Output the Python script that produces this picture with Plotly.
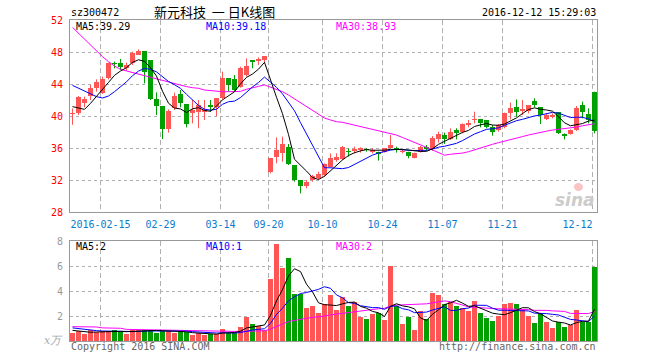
import numpy as np
import pandas as pd
import plotly.graph_objects as go

# ---------------- data ----------------
dates = [d.strftime("%Y-%m-%d") for d in (
    list(pd.bdate_range("2016-02-01", "2016-02-05")) +
    list(pd.bdate_range("2016-02-15", "2016-03-23")) +
    list(pd.bdate_range("2016-09-20", "2016-09-30")) +
    list(pd.bdate_range("2016-10-10", "2016-12-12")))]

open_ = [40.25, 40.42, 41.67, 42.50, 43.46, 42.92, 44.71, 46.55, 46.67, 45.96,
         46.67, 47.63, 48.13, 47.00, 42.13, 41.25, 38.38, 40.96, 42.75, 41.50,
         40.42, 40.54, 40.60, 41.38, 41.08, 42.21, 44.71, 44.58, 43.67, 45.13,
         46.92, 46.90, 47.00, 33.04, 34.92, 35.33, 36.08, 33.88, 32.00, 31.29,
         32.00, 32.21, 32.63, 33.67, 34.50, 34.58, 35.60, 35.70, 35.80, 35.80,
         35.54, 35.54, 35.54, 36.00, 36.04, 35.50, 35.54, 34.79, 35.54, 36.17,
         35.83, 37.13, 37.63, 37.08, 38.25, 37.96, 38.98, 39.50, 39.63, 39.50,
         38.67, 38.25, 38.58, 40.33, 41.08, 40.70, 40.67, 41.92, 41.08, 39.58,
         39.98, 40.46, 37.65, 37.75, 38.25, 41.38, 40.21, 43.04]
high = [40.95, 42.50, 42.42, 43.88, 44.58, 44.92, 46.67, 46.80, 47.13, 46.67,
        48.04, 48.33, 48.13, 47.00, 42.96, 41.25, 40.83, 42.92, 43.25, 41.50,
        42.00, 42.00, 42.00, 42.00, 42.21, 45.54, 44.71, 45.13, 46.17, 47.21,
        46.92, 47.33, 47.50, 34.71, 37.33, 37.42, 36.50, 33.88, 32.00, 32.00,
        32.63, 33.04, 34.08, 35.33, 35.33, 36.25, 35.96, 36.17, 36.08, 35.96,
        35.96, 35.54, 35.96, 37.63, 36.17, 35.75, 35.54, 35.42, 36.25, 36.38,
        37.50, 38.04, 37.92, 38.46, 38.46, 39.08, 39.50, 40.54, 39.63, 39.50,
        38.88, 39.00, 40.42, 41.67, 42.08, 42.00, 41.38, 42.21, 41.08, 40.33,
        40.33, 40.46, 37.83, 38.33, 41.25, 41.79, 40.96, 43.04]
low = [38.90, 40.13, 41.08, 42.00, 43.04, 42.75, 44.58, 45.96, 45.75, 45.67,
       46.38, 47.63, 44.08, 42.00, 40.13, 37.13, 37.92, 40.75, 41.08, 38.58,
       39.08, 38.46, 39.50, 40.54, 40.00, 42.08, 43.04, 43.04, 43.54, 44.92,
       45.96, 46.38, 46.58, 32.83, 34.08, 34.29, 33.88, 31.79, 30.33, 30.96,
       31.79, 32.08, 32.42, 33.58, 34.29, 34.50, 34.92, 35.33, 35.42, 35.54,
       35.33, 34.42, 35.42, 35.96, 35.42, 35.33, 34.71, 34.71, 35.42, 35.67,
       35.67, 36.67, 36.50, 37.00, 37.08, 37.83, 38.58, 39.08, 38.58, 38.46,
       37.54, 38.04, 38.46, 39.58, 39.92, 40.13, 40.33, 41.08, 39.00, 39.50,
       39.71, 37.75, 37.08, 37.67, 38.13, 39.71, 39.08, 37.83]
close = [40.25, 42.42, 42.08, 43.46, 44.29, 44.58, 46.58, 46.50, 46.17, 46.38,
         47.92, 48.17, 45.50, 42.13, 41.25, 38.42, 40.67, 42.50, 41.58, 39.00,
         40.75, 41.38, 40.75, 41.08, 42.21, 44.71, 43.88, 43.25, 46.04, 46.25,
         46.79, 46.95, 47.50, 34.71, 35.75, 36.50, 34.00, 32.00, 31.29, 31.79,
         32.50, 32.75, 34.00, 34.71, 34.92, 36.17, 35.50, 35.75, 35.85, 35.75,
         35.75, 35.33, 35.96, 36.38, 35.83, 35.55, 35.00, 35.33, 36.17, 35.83,
         37.21, 37.75, 37.13, 38.04, 37.83, 39.00, 39.00, 39.55, 39.08, 38.67,
         38.04, 38.88, 40.33, 41.04, 40.54, 40.75, 41.38, 41.38, 40.13, 40.13,
         40.00, 37.92, 37.60, 38.25, 40.96, 40.54, 39.50, 38.17]
volume = [0.64, 0.80, 0.59, 0.85, 0.72, 0.77, 0.80, 0.85, 0.72, 0.59,
          0.90, 0.90, 0.90, 0.90, 0.64, 0.80, 0.80, 0.64, 0.72, 0.72,
          0.45, 0.64, 0.45, 0.59, 0.59, 0.93, 0.64, 0.64, 1.09, 1.92,
          1.33, 1.17, 0.90, 4.93, 7.73, 5.85, 6.64, 3.75, 3.80, 2.67,
          2.80, 2.25, 3.00, 3.66, 2.46, 3.50, 2.80, 3.15, 1.93, 1.75,
          2.20, 2.26, 1.66, 6.02, 2.77, 1.33, 1.89, 0.85, 2.37, 1.79,
          3.81, 3.65, 2.93, 3.12, 2.77, 2.67, 2.37, 3.17, 2.21, 1.81,
          1.57, 2.00, 2.93, 3.01, 2.93, 2.45, 1.97, 1.41, 2.13, 1.49,
          1.01, 1.49, 1.09, 1.31, 2.45, 1.55, 1.55, 5.92]

# moving-average values before enough visible history exists
ma5_head = [41.17, 40.96, 40.83, 41.58]
ma10_head = [43.83, 43.46, 43.13, 42.75, 42.42, 42.25, 42.50, 43.04, 43.67]
ma30_head = [51.08, 50.33, 49.58, 48.83, 48.08, 47.42, 46.79, 46.25, 45.83, 45.63,
             45.46, 45.25, 45.04, 44.83, 44.63, 44.42, 44.25, 44.08, 43.88, 43.67,
             43.54, 43.46, 43.25, 43.17, 43.08, 43.04, 43.04, 43.04, 43.08]
vma5_head = [0.85, 0.78, 0.72, 0.70]
vma10_head = [1.05, 0.98, 0.92, 0.87, 0.83, 0.80, 0.78, 0.77, 0.77]
vma30_head = [1.15, 1.15, 1.15, 1.14, 1.12, 1.05, 1.04, 1.03, 1.02, 0.93,
              0.92, 0.91, 0.90, 0.90, 0.89, 0.89, 0.88, 0.86, 0.85, 0.85,
              0.84, 0.82, 0.78, 0.77, 0.77, 0.76, 0.76, 0.75, 0.76]

tick_dates = ["2016-02-15", "2016-02-29", "2016-03-14", "2016-09-20", "2016-10-10",
              "2016-10-24", "2016-11-07", "2016-11-21", "2016-12-12"]
tick_text = ["2016-02-15", "02-29", "03-14", "09-20", "10-10",
             "10-24", "11-07", "11-21", "12-12\u00a0\u00a0\u00a0\u00a0\u00a0"]

# ---------------- derived ----------------
def moving(values, n, head):
    s = pd.Series(values, dtype=float).rolling(n).mean().to_numpy()
    s[:n - 1] = head
    return s

ma5 = moving(close, 5, ma5_head)
ma10 = moving(close, 10, ma10_head)
ma30 = moving(close, 30, ma30_head)
vma5 = moving(volume, 5, vma5_head)
vma10 = moving(volume, 10, vma10_head)
vma30 = moving(volume, 30, vma30_head)

n = len(dates)
idx = np.arange(n)
o = np.array(open_); c = np.array(close); h = np.array(high); l = np.array(low)
up = c >= o
RED = "#ff5555"
GREEN = "#00a000"

fig = go.Figure()

for mask, col in ((up, RED), (~up, GREEN)):
    xs = idx[mask]
    wx, wy = [], []
    for i in xs:
        wx += [i, i, None]
        wy += [l[i], h[i], None]
    fig.add_trace(go.Scatter(x=wx, y=wy, mode="lines", line=dict(color=col, width=1),
                             hoverinfo="skip", showlegend=False, xaxis="x", yaxis="y"))
    base = np.minimum(o[mask], c[mask])
    height = np.maximum(np.abs(c[mask] - o[mask]), 0.12)
    fig.add_trace(go.Bar(x=xs, y=height, base=base, width=0.8,
                         marker=dict(color=col, line=dict(width=0)),
                         showlegend=False, xaxis="x", yaxis="y"))
    fig.add_trace(go.Bar(x=xs, y=np.array(volume)[mask], width=0.8,
                         marker=dict(color=col, line=dict(width=0)),
                         showlegend=False, xaxis="x2", yaxis="y2"))

for series, col, ax in ((ma30, "#ff00ff", "y"), (ma10, "#0000ff", "y"), (ma5, "#000000", "y"),
                        (vma30, "#ff00ff", "y2"), (vma10, "#0000ff", "y2"), (vma5, "#000000", "y2")):
    fig.add_trace(go.Scatter(x=idx, y=series, mode="lines", line=dict(color=col, width=1),
                             showlegend=False, hoverinfo="skip",
                             xaxis="x" if ax == "y" else "x2", yaxis=ax))

tickvals = [dates.index(d) - 1 / 3 for d in tick_dates]

L, R, T, B = 70, 63, 20, 19
W, H = 660, 360
PW, PH = W - L - R, H - T - B

def px(x):
    return (x - L) / PW

def py(y):
    return (H - B - y) / PH

FRAME = "#999999"
GRID = "#b0b0b0"
MONO = "DejaVu Sans Mono"
xr = [-0.4167, n - 1 + 0.4167]

common_x = dict(range=xr, tickvals=tickvals, showgrid=True, gridcolor=GRID, gridwidth=1,
                griddash="5px,3px", zeroline=False, showline=True, mirror=True,
                linecolor=FRAME, linewidth=1, fixedrange=True)

fig.update_layout(
    width=W, height=H,
    margin=dict(l=L, r=R, t=T, b=B, pad=0),
    paper_bgcolor="white", plot_bgcolor="white",
    barmode="overlay", bargap=0,
    showlegend=False,
    xaxis=dict(common_x, domain=[0, 1], anchor="y", ticktext=tick_text,
               ticks="outside", ticklen=3, tickcolor="rgba(0,0,0,0)",
               tickfont=dict(family=MONO, size=10, color="#0a7ccc")),
    xaxis2=dict(common_x, domain=[0, 1], anchor="y2", showticklabels=False, ticks=""),
    yaxis=dict(domain=[py(212), 1], range=[28, 52], tickvals=[28, 32, 36, 40, 44, 48, 52],
               showgrid=True, gridcolor=GRID, griddash="dot", zeroline=False,
               showline=True, mirror=True, linecolor=FRAME, linewidth=1,
               ticks="outside", ticklen=4, tickcolor="rgba(0,0,0,0)",
               tickfont=dict(family=MONO, size=10, color="#ff0000")),
    yaxis2=dict(domain=[0, py(241)], range=[0, 8], tickvals=[2, 4, 6, 8],
                showgrid=True, gridcolor=GRID, griddash="dot", zeroline=False,
                showline=True, mirror=True, linecolor=FRAME, linewidth=1,
                ticks="outside", ticklen=4, tickcolor="rgba(0,0,0,0)",
                tickfont=dict(family=MONO, size=10, color="#999999")),
)

def text(s, x, y, anchor="left", color="#000000", size=10, family=MONO, **kw):
    fig.add_annotation(text=s, x=px(x), y=py(y), xref="paper", yref="paper",
                       xanchor=anchor, yanchor="middle", showarrow=False, borderpad=0,
                       font=dict(family=family, size=size, color=color), **kw)

text("sz300472", 70, 12)
text("新元科技\u00a0\u00a0一\u00a0日K线图", 214, 11, anchor="center", size=13,
     family="Noto Sans CJK SC")
text("2016-12-12 15:29:03", 597, 12, anchor="right")
text("MA5:39.29", 75, 26)
text("MA10:39.18", 205, 26, color="#0000ff")
text("MA30:38.93", 335, 26, color="#ff00ff")
text("MA5:2", 75, 246.5)
text("MA10:1", 205, 246.5, color="#0000ff")
text("MA30:2", 335, 246.5, color="#ff00ff")
text("<i>x万</i>", 64, 340, anchor="right", color="#aaaaaa", size=11, family="DejaVu Serif")
text("Copyright 2016 SINA.COM", 70, 346.5, color="#666666")
text("http://finance.sina.com.cn", 597, 346.5, anchor="right", color="#666666")
text("<b><i>sina</i></b>", 596, 200, anchor="right", color="#cccccc", size=17, family="DejaVu Sans")

# sina eye logo (decorative)
fig.add_shape(type="circle", xref="paper", yref="paper",
              x0=px(574), x1=px(583), y0=py(191), y1=py(183),
              fillcolor="#f8c4c4", line=dict(width=0))

fig.write_html("out.html")
